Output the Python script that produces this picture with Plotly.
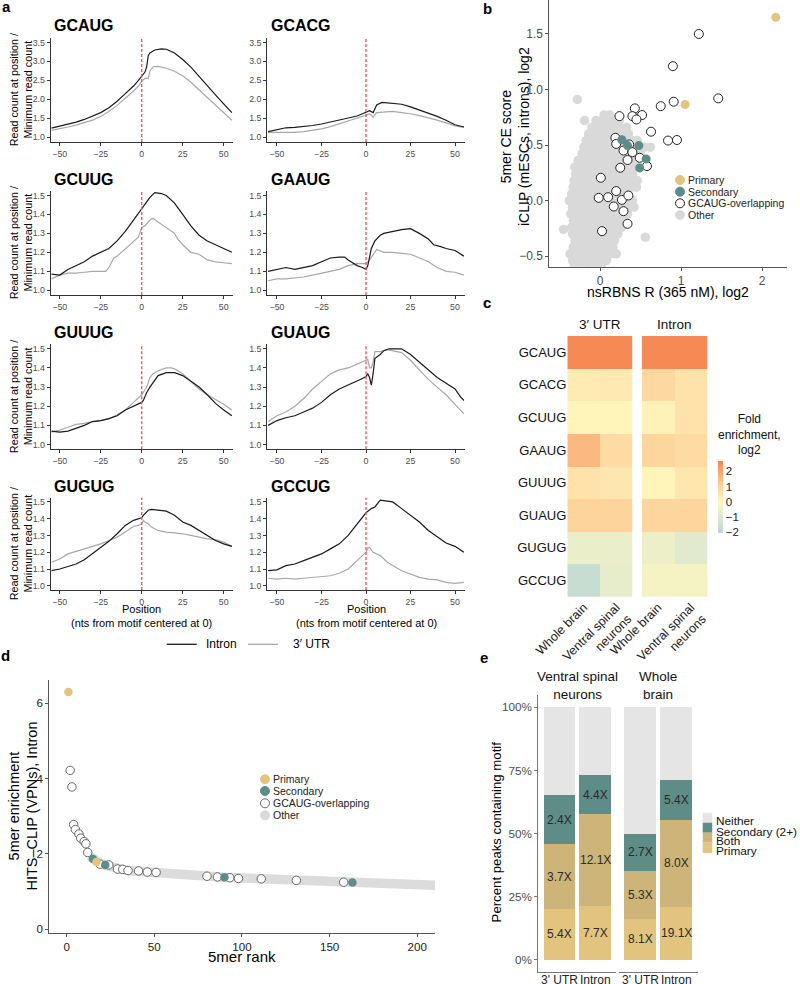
import plotly.graph_objects as go

W, H = 800, 984
FONT = "Liberation Sans, Arial, Helvetica, sans-serif"

# ---------------- Panel a data ----------------
POS_GCAUG_INTRON = [-55,-50,-45,-40,-35,-30,-25,-20,-15,-10,-5,-2,0,2,3,4,5,8,12,15,20,25,30,35,40,45,50,55]
VAL_GCAUG_INTRON = [1.24,1.29,1.34,1.40,1.47,1.55,1.65,1.78,1.95,2.15,2.35,2.50,2.62,2.72,2.85,3.15,3.22,3.30,3.33,3.32,3.22,3.05,2.85,2.60,2.35,2.12,1.88,1.65]
POS_GCAUG_UTR = [-55,-50,-45,-40,-35,-30,-25,-20,-15,-10,-5,-2,0,2,4,5,7,10,15,20,25,30,35,40,45,50,55]
VAL_GCAUG_UTR = [1.18,1.22,1.27,1.32,1.38,1.45,1.55,1.68,1.84,2.02,2.22,2.35,2.48,2.55,2.55,2.75,2.86,2.87,2.82,2.74,2.62,2.45,2.25,2.05,1.85,1.65,1.45]

POS_GCACG_INTRON = [-55,-50,-45,-40,-35,-30,-25,-20,-15,-10,-5,-2,0,2,4,6,9,15,20,25,30,35,40,45,50,55]
VAL_GCACG_INTRON = [1.15,1.20,1.25,1.26,1.28,1.31,1.35,1.40,1.45,1.50,1.56,1.62,1.67,1.70,1.65,1.85,1.92,1.90,1.87,1.80,1.72,1.64,1.55,1.45,1.33,1.27]
POS_GCACG_UTR = [-55,-50,-45,-40,-35,-30,-25,-20,-15,-10,-5,-2,0,2,4,6,10,15,20,25,30,35,40,45,50,55]
VAL_GCACG_UTR = [1.13,1.13,1.12,1.13,1.15,1.18,1.22,1.28,1.35,1.42,1.50,1.55,1.58,1.62,1.53,1.65,1.66,1.68,1.65,1.62,1.57,1.52,1.45,1.38,1.30,1.26]

POS_GCUUG_INTRON = [-55,-50,-45,-40,-35,-30,-25,-20,-15,-10,-5,0,3,5,8,12,15,20,25,30,35,40,45,50,55]
VAL_GCUUG_INTRON = [1.085,1.08,1.11,1.13,1.15,1.18,1.20,1.22,1.26,1.31,1.37,1.43,1.46,1.49,1.515,1.51,1.50,1.46,1.40,1.34,1.29,1.26,1.24,1.22,1.20]
POS_GCUUG_UTR = [-55,-50,-45,-40,-35,-30,-25,-22,-20,-17,-15,-10,-5,-2,0,2,5,7,10,15,20,22,25,30,35,40,45,50,55]
VAL_GCUUG_UTR = [1.06,1.08,1.09,1.09,1.095,1.10,1.10,1.10,1.12,1.17,1.18,1.22,1.26,1.28,1.33,1.34,1.37,1.38,1.36,1.33,1.30,1.27,1.24,1.20,1.19,1.16,1.15,1.145,1.14]

POS_GAAUG_INTRON = [-55,-50,-45,-40,-35,-30,-25,-20,-15,-12,-10,-5,-2,0,1,2,3,5,8,10,15,20,25,28,30,35,38,42,45,50,53,55]
VAL_GAAUG_INTRON = [1.10,1.11,1.12,1.11,1.12,1.13,1.15,1.17,1.175,1.175,1.16,1.13,1.12,1.11,1.13,1.18,1.22,1.26,1.29,1.30,1.31,1.32,1.325,1.31,1.30,1.27,1.24,1.23,1.22,1.21,1.19,1.18]
POS_GAAUG_UTR = [-55,-50,-45,-40,-35,-30,-25,-20,-15,-10,-5,-2,0,2,4,6,10,15,20,25,30,35,40,45,50,55]
VAL_GAAUG_UTR = [1.05,1.06,1.06,1.065,1.07,1.08,1.09,1.10,1.11,1.13,1.14,1.14,1.14,1.16,1.19,1.215,1.20,1.20,1.195,1.19,1.17,1.15,1.12,1.10,1.095,1.08]

POS_GUUUG_INTRON = [-55,-50,-45,-40,-35,-30,-25,-20,-15,-10,-5,0,1,3,5,8,10,15,20,25,30,35,40,45,50,55]
VAL_GUUUG_INTRON = [1.07,1.065,1.07,1.085,1.10,1.12,1.125,1.135,1.15,1.18,1.20,1.22,1.23,1.27,1.30,1.34,1.36,1.375,1.375,1.36,1.33,1.30,1.26,1.215,1.18,1.15]
POS_GUUUG_UTR = [-55,-50,-45,-40,-35,-30,-25,-20,-15,-10,-5,0,3,5,7,10,15,18,20,25,30,35,40,45,50,55]
VAL_GUUUG_UTR = [1.065,1.075,1.09,1.105,1.11,1.12,1.125,1.135,1.155,1.18,1.22,1.26,1.30,1.35,1.37,1.385,1.40,1.40,1.395,1.37,1.33,1.29,1.26,1.235,1.21,1.18]

POS_GUAUG_INTRON = [-55,-50,-45,-40,-35,-30,-25,-20,-15,-10,-5,-2,0,1,2,3,4,5,8,10,13,16,20,25,30,35,40,45,50,53,55]
VAL_GUAUG_INTRON = [1.10,1.125,1.14,1.15,1.17,1.19,1.22,1.26,1.29,1.31,1.33,1.345,1.355,1.37,1.35,1.31,1.37,1.45,1.47,1.49,1.50,1.50,1.50,1.47,1.43,1.39,1.35,1.32,1.29,1.25,1.23]
POS_GUAUG_UTR = [-55,-50,-45,-40,-35,-30,-25,-20,-15,-10,-5,-2,0,1,2,3,4,5,8,12,15,20,25,30,35,40,45,50,55]
VAL_GUAUG_UTR = [1.12,1.15,1.17,1.20,1.24,1.29,1.33,1.37,1.39,1.40,1.42,1.43,1.44,1.445,1.40,1.40,1.43,1.485,1.485,1.495,1.49,1.48,1.44,1.39,1.34,1.30,1.26,1.21,1.16]

POS_GUGUG_INTRON = [-55,-50,-45,-40,-35,-30,-25,-20,-15,-10,-5,-2,0,1,2,4,6,10,15,20,25,30,35,40,45,50,55]
VAL_GUGUG_INTRON = [1.09,1.10,1.115,1.13,1.155,1.19,1.225,1.265,1.31,1.36,1.39,1.40,1.405,1.42,1.43,1.45,1.455,1.45,1.445,1.42,1.38,1.36,1.33,1.30,1.27,1.25,1.235]
POS_GUGUG_UTR = [-55,-50,-45,-40,-35,-30,-25,-20,-15,-10,-5,-2,0,1,2,4,6,10,15,20,25,30,35,40,45,50,55]
VAL_GUGUG_UTR = [1.14,1.16,1.19,1.205,1.22,1.235,1.25,1.27,1.29,1.32,1.355,1.36,1.37,1.39,1.38,1.37,1.35,1.33,1.32,1.315,1.31,1.30,1.29,1.28,1.275,1.26,1.235]

POS_GCCUG_INTRON = [-55,-50,-45,-40,-35,-30,-25,-20,-15,-10,-5,0,3,5,8,12,15,20,25,30,35,40,45,50,55]
VAL_GCCUG_INTRON = [1.09,1.095,1.12,1.13,1.15,1.17,1.19,1.22,1.25,1.30,1.37,1.435,1.46,1.47,1.51,1.505,1.50,1.46,1.42,1.38,1.33,1.29,1.255,1.235,1.20]
POS_GCCUG_UTR = [-55,-50,-45,-40,-35,-30,-25,-20,-15,-10,-5,-2,0,1,2,4,8,12,15,20,25,30,35,40,45,50,55]
VAL_GCCUG_UTR = [1.045,1.04,1.045,1.04,1.045,1.05,1.055,1.06,1.075,1.10,1.15,1.18,1.20,1.225,1.23,1.20,1.18,1.14,1.12,1.09,1.07,1.05,1.04,1.035,1.02,1.015,1.02]

A_MOTIFS = ["GCAUG", "GCACG", "GCUUG", "GAAUG", "GUUUG", "GUAUG", "GUGUG", "GCCUG"]
A_X_TICKS = [-50, -25, 0, 25, 50]

# ---------------- Panel b data ----------------
B_PRIMARY_X = [2.17, 1.05]
B_PRIMARY_Y = [1.65, 0.865]
B_SECONDARY_X = [0.27, 0.34, 0.48, 0.57, 0.49]
B_SECONDARY_Y = [0.547, 0.495, 0.495, 0.375, 0.294]
B_OVERLAP_X = [1.22, 0.90, 0.91, 1.46, 0.75, 0.43, 0.24, 0.40, 0.52, 0.45, 0.63, 0.84, 0.95, 0.19, 0.20,
               0.36, 0.29, 0.40, 0.49, 0.34, 0.25, 0.58, 0.01, 0.20, -0.016, 0.10, 0.17, 0.27, 0.35, 0.29, 0.34, 0.025]
B_OVERLAP_Y = [1.50, 1.21, 0.89, 0.92, 0.85, 0.83, 0.76, 0.76, 0.77, 0.73, 0.62, 0.54, 0.545, 0.565, 0.51,
               0.505, 0.45, 0.435, 0.385, 0.365, 0.295, 0.31, 0.205, 0.085, 0.024, 0.03, -0.054, 0.006, 0.045, -0.096, -0.21, -0.276]
# "Other" 5mers: rows of the grey cloud (y level -> x positions)
B_OTHER_ROWS = [
    (-0.60, [-0.32, -0.25, -0.18, -0.11, -0.04, 0.02]),
    (-0.54, [-0.34, -0.27, -0.20, -0.13, -0.06, 0.01, 0.08]),
    (-0.48, [-0.37, -0.30, -0.23, -0.16, -0.09, -0.02, 0.05, 0.12, 0.20]),
    (-0.42, [-0.33, -0.26, -0.19, -0.12, -0.05, 0.02, 0.09, 0.16]),
    (-0.36, [-0.31, -0.24, -0.17, -0.10, -0.03, 0.04, 0.11, 0.18]),
    (-0.33, [0.56]),
    (-0.30, [-0.34, -0.27, -0.20, -0.13, -0.06, 0.01, 0.08, 0.15, 0.22]),
    (-0.26, [-0.45]),
    (-0.24, [-0.35, -0.28, -0.21, -0.14, -0.07, 0.00, 0.07, 0.14, 0.21, 0.27]),
    (-0.18, [-0.33, -0.26, -0.19, -0.12, -0.05, 0.02, 0.09, 0.16, 0.23, 0.30]),
    (-0.12, [-0.36, -0.29, -0.22, -0.15, -0.08, -0.01, 0.06, 0.13, 0.20, 0.27, 0.34]),
    (-0.06, [-0.34, -0.27, -0.20, -0.13, -0.06, 0.01, 0.08, 0.15, 0.22, 0.29, 0.36, 0.42]),
    (0.00, [-0.38, -0.31, -0.24, -0.17, -0.10, -0.03, 0.04, 0.11, 0.18, 0.25, 0.32, 0.40]),
    (0.06, [-0.35, -0.28, -0.21, -0.14, -0.07, 0.00, 0.07, 0.14, 0.21, 0.28, 0.35]),
    (0.12, [-0.33, -0.26, -0.19, -0.12, -0.05, 0.02, 0.09, 0.16, 0.23, 0.30, 0.38, 0.45]),
    (0.18, [-0.32, -0.25, -0.18, -0.11, -0.04, 0.03, 0.10, 0.17, 0.24, 0.31, 0.38, 0.46]),
    (0.24, [-0.30, -0.23, -0.16, -0.09, -0.02, 0.05, 0.12, 0.19, 0.26, 0.33, 0.40]),
    (0.30, [-0.31, -0.24, -0.17, -0.10, -0.03, 0.04, 0.11, 0.18, 0.25, 0.32, 0.39, 0.47]),
    (0.36, [-0.27, -0.20, -0.13, -0.06, 0.01, 0.08, 0.15, 0.22, 0.29, 0.36, 0.43]),
    (0.42, [-0.22, -0.15, -0.08, -0.01, 0.06, 0.13, 0.20, 0.27, 0.34, 0.41, 0.50]),
    (0.48, [-0.20, -0.13, -0.06, 0.01, 0.08, 0.15, 0.22, 0.29, 0.36, 0.43, 0.55, 0.62]),
    (0.54, [-0.17, -0.10, -0.03, 0.04, 0.11, 0.18, 0.25, 0.32, 0.39, 0.46]),
    (0.60, [-0.14, -0.07, 0.00, 0.07, 0.14, 0.21, 0.28, 0.35]),
    (0.66, [-0.10, -0.03, 0.04, 0.11, 0.18, 0.25, 0.33]),
    (0.72, [-0.19, -0.05, 0.02, 0.09, 0.16, 0.24]),
    (0.77, [0.05, 0.12]),
    (0.91, [-0.28]),
]

# ---------------- Panel c data ----------------
HEAT_MOTIFS = ["GCAUG", "GCACG", "GCUUG", "GAAUG", "GUUUG", "GUAUG", "GUGUG", "GCCUG"]
HEAT_COLS = ["Whole brain", "Ventral spinal<br>neurons"]
HEAT_UTR_WB = [2.6, 0.35, 0.1, 1.6, 0.6, 1.0, -0.6, -1.7]
HEAT_UTR_VSN = [2.6, 0.4, 0.1, 0.8, 0.45, 1.0, -0.6, -0.7]
HEAT_INTRON_WB = [2.6, 0.85, 0.15, 0.95, 0.1, 0.95, -0.55, -0.3]
HEAT_INTRON_VSN = [2.6, 0.6, 0.6, 0.8, 0.5, 0.95, -0.85, -0.3]

# ---------------- Panel d data ----------------
D_OTHER_RANK = [13, 16, 19, 22, 26, 30, 35, 40, 45, 50, 55, 60, 70, 80, 90, 100, 120, 140, 160, 180, 200, 212]
D_OTHER_VAL = [1.95, 1.83, 1.76, 1.70, 1.64, 1.60, 1.56, 1.54, 1.52, 1.49, 1.47, 1.45, 1.43, 1.41, 1.38, 1.36, 1.32, 1.29, 1.25, 1.22, 1.19, 1.17]
D_OVERLAP_RANK = [2, 3, 4, 5, 7, 8, 10, 11, 12, 19, 24, 29, 32, 35, 41, 46, 51, 80, 86, 93, 98, 111, 131, 158]
D_OVERLAP_VAL = [4.22, 3.78, 2.78, 2.65, 2.53, 2.42, 2.33, 2.27, 2.04, 1.73, 1.71, 1.60, 1.59, 1.56, 1.55, 1.52, 1.51, 1.41, 1.39, 1.37, 1.35, 1.34, 1.30, 1.25]
D_SECONDARY_RANK = [15, 22, 90, 163]
D_SECONDARY_VAL = [1.87, 1.71, 1.38, 1.24]
D_PRIMARY_RANK = [1, 17]
D_PRIMARY_VAL = [6.30, 1.79]

# ---------------- Panel e data ----------------
E_FACETS = ["Ventral spinal<br>neurons", "Whole<br>brain"]
E_REGIONS = ["3' UTR", "Intron"]
E_PRIMARY = [20.1, 21.3, 16.2, 21.0]
E_BOTH = [25.7, 36.4, 19.1, 34.5]
E_SECONDARY = [19.3, 15.3, 14.6, 15.8]
E_PRIMARY_FOLD = ["5.4X", "7.7X", "8.1X", "19.1X"]
E_BOTH_FOLD = ["3.7X", "12.1X", "5.3X", "8.0X"]
E_SECONDARY_FOLD = ["2.4X", "4.4X", "2.7X", "5.4X"]

# ---------------- colours ----------------
C_PRIMARY = "#E3C47F"
C_BOTH = "#CDB57A"
C_SECONDARY = "#5E8C87"
C_NEITHER = "#E5E5E5"
C_OTHER = "#D9D9D9"
C_INTRON = "#1A1A1A"
C_UTR = "#A8A8A8"
C_RED = "#F5575A"


def fx(p):
    return p / W


def fy(p):
    return 1 - p / H


def names(i):
    s = "" if i == 1 else str(i)
    return "xaxis" + s, "yaxis" + s, "x" + s, "y" + s


fig = go.Figure()
layout = {}
annotations = []
shapes = []


def ann(text, x, y, size, color="#1A1A1A", xanchor="center", yanchor="middle", angle=0, bold=False):
    if bold:
        text = "<b>" + text + "</b>"
    annotations.append(dict(text=text, x=fx(x), y=fy(y), xref="paper", yref="paper", showarrow=False,
                            xanchor=xanchor, yanchor=yanchor, textangle=angle,
                            font=dict(family=FONT, size=size, color=color)))


def base_axis(tsize, tcolor="#4D4D4D", lcolor="#333333"):
    return dict(showgrid=False, zeroline=False, showline=True, linecolor=lcolor, linewidth=1,
                ticks="outside", ticklen=3, tickwidth=1, tickcolor=lcolor, automargin=False,
                tickfont=dict(family=FONT, size=tsize, color=tcolor))


# ================= Panel a =================
A_SERIES = [
    (POS_GCAUG_INTRON, VAL_GCAUG_INTRON, POS_GCAUG_UTR, VAL_GCAUG_UTR),
    (POS_GCACG_INTRON, VAL_GCACG_INTRON, POS_GCACG_UTR, VAL_GCACG_UTR),
    (POS_GCUUG_INTRON, VAL_GCUUG_INTRON, POS_GCUUG_UTR, VAL_GCUUG_UTR),
    (POS_GAAUG_INTRON, VAL_GAAUG_INTRON, POS_GAAUG_UTR, VAL_GAAUG_UTR),
    (POS_GUUUG_INTRON, VAL_GUUUG_INTRON, POS_GUUUG_UTR, VAL_GUUUG_UTR),
    (POS_GUAUG_INTRON, VAL_GUAUG_INTRON, POS_GUAUG_UTR, VAL_GUAUG_UTR),
    (POS_GUGUG_INTRON, VAL_GUGUG_INTRON, POS_GUGUG_UTR, VAL_GUGUG_UTR),
    (POS_GCCUG_INTRON, VAL_GCCUG_INTRON, POS_GCCUG_UTR, VAL_GCCUG_UTR),
]
COL_X = [(50.7, 232.7), (267.2, 464.8)]
ROW_Y = [(37.7, 142.0), (190.7, 295.0), (344.0, 449.3), (497.7, 590.0)]
TITLE_Y = [26, 180, 333, 486]
TITLE_X = [52, 269]

for k, (pi, vi, pu, vu) in enumerate(A_SERIES):
    r, c = divmod(k, 2)
    i = k + 1
    xk, yk, xr, yr = names(i)
    fig.add_trace(go.Scatter(x=pu, y=vu, mode="lines", line=dict(color=C_UTR, width=1.2),
                             xaxis=xr, yaxis=yr, showlegend=False, hoverinfo="skip"))
    fig.add_trace(go.Scatter(x=pi, y=vi, mode="lines", line=dict(color=C_INTRON, width=1.2),
                             xaxis=xr, yaxis=yr, showlegend=False, hoverinfo="skip"))
    xa = base_axis(8.8)
    xa.update(domain=[fx(COL_X[c][0]), fx(COL_X[c][1])], anchor=yr, range=[-55.5, 55.5],
              tickvals=A_X_TICKS)
    ya = base_axis(8.8)
    if r == 0:
        ya.update(range=[0.875, 3.625], tickvals=[1.0, 1.5, 2.0, 2.5, 3.0, 3.5])
    else:
        ya.update(range=[0.975, 1.525], tickvals=[1.0, 1.1, 1.2, 1.3, 1.4, 1.5])
    ya.update(domain=[fy(ROW_Y[r][1]), fy(ROW_Y[r][0])], anchor=xr, tickformat=".1f")
    layout[xk] = xa
    layout[yk] = ya
    shapes.append(dict(type="line", xref=xr, yref=yr + " domain", x0=0, x1=0, y0=0, y1=1,
                       line=dict(color=C_RED, width=1.4, dash="3px,2px")))
    ann(A_MOTIFS[k], TITLE_X[c], TITLE_Y[r], 16, color="#000000", xanchor="left", bold=True)
    if c == 0:
        ann("Read count at position /<br>Minimum read count", 20.5, (ROW_Y[r][0] + ROW_Y[r][1]) / 2,
            10.8, color="#000000", angle=-90)

for c in range(2):
    ann("Position<br>(nts from motif centered at 0)", (COL_X[c][0] + COL_X[c][1]) / 2, 615.5, 11,
        color="#000000")

# panel a legend
shapes.append(dict(type="line", xref="paper", yref="paper", x0=fx(166.7), x1=fx(196.7), y0=fy(644.3), y1=fy(644.3),
                   line=dict(color=C_INTRON, width=1.3)))
shapes.append(dict(type="line", xref="paper", yref="paper", x0=fx(248), x1=fx(278), y0=fy(644.3), y1=fy(644.3),
                   line=dict(color=C_UTR, width=1.3)))
ann("Intron", 204, 644.3, 12, color="#000000", xanchor="left")
ann("3′ UTR", 290.5, 644.3, 12, color="#000000", xanchor="left")

# ================= Panel b =================
i = 9
xk, yk, xr, yr = names(i)
other_x = [x for (yv, xs) in B_OTHER_ROWS for x in xs]
other_y = [yv for (yv, xs) in B_OTHER_ROWS for x in xs]
fig.add_trace(go.Scatter(x=other_x, y=other_y, mode="markers", marker=dict(size=9.5, color=C_OTHER, line=dict(width=0)),
                         xaxis=xr, yaxis=yr, showlegend=False, hoverinfo="skip"))
fig.add_trace(go.Scatter(x=B_OVERLAP_X, y=B_OVERLAP_Y, mode="markers",
                         marker=dict(size=9, color="white", line=dict(width=1, color="#222222")),
                         xaxis=xr, yaxis=yr, showlegend=False, hoverinfo="skip"))
fig.add_trace(go.Scatter(x=B_SECONDARY_X, y=B_SECONDARY_Y, mode="markers",
                         marker=dict(size=9, color=C_SECONDARY, line=dict(width=0)),
                         xaxis=xr, yaxis=yr, showlegend=False, hoverinfo="skip"))
fig.add_trace(go.Scatter(x=B_PRIMARY_X, y=B_PRIMARY_Y, mode="markers",
                         marker=dict(size=9, color=C_PRIMARY, line=dict(width=0)),
                         xaxis=xr, yaxis=yr, showlegend=False, hoverinfo="skip"))
xa = base_axis(12, lcolor="#555555")
xa.update(domain=[fx(549.3), fx(786.7)], anchor=yr, range=[-0.626, 2.305], tickvals=[0, 1, 2])
ya = base_axis(12, lcolor="#555555")
ya.update(domain=[fy(266.7), fy(0)], anchor=xr, range=[-0.596, 1.806],
          tickvals=[-0.5, 0.0, 0.5, 1.0, 1.5], tickformat=".1f")
layout[xk] = xa
layout[yk] = ya
ann("5mer CE score<br>iCLIP (mESCs, introns), log2", 515, 137, 14, color="#000000", angle=-90)
ann("nsRBNS R (365 nM), log2", 668, 291.5, 14, color="#000000")

LEG_B = [("Primary", C_PRIMARY, C_PRIMARY), ("Secondary", C_SECONDARY, C_SECONDARY),
         ("GCAUG-overlapping", "white", "#222222"), ("Other", C_OTHER, C_OTHER)]
for j, (lab, fc, lc) in enumerate(LEG_B):
    yy = [180, 191.7, 203.3, 215][j]
    shapes.append(dict(type="circle", xref="paper", yref="paper", xsizemode="pixel", ysizemode="pixel",
                       xanchor=fx(680), yanchor=fy(yy), x0=-4.5, x1=4.5, y0=-4.5, y1=4.5,
                       fillcolor=fc, line=dict(color=lc, width=1)))
    ann(lab, 685.5, yy, 10.5, color="#222222", xanchor="left")

# ================= Panel c =================
HEAT_SCALE = [[0.0, "#BDD7D3"], [0.221, "#DCE8D1"], [0.4316, "#FFF7BD"], [0.6421, "#FDD49C"], [1.0, "#F6854F"]]
facets_c = [([HEAT_UTR_WB, HEAT_UTR_VSN], (567.3, 632.7), "3′ UTR"),
            ([HEAT_INTRON_WB, HEAT_INTRON_VSN], (641.7, 707.3), "Intron")]
for f, (cols, (x0, x1), head) in enumerate(facets_c):
    i = 10 + f
    xk, yk, xr, yr = names(i)
    z = [[cols[0][m], cols[1][m]] for m in range(len(HEAT_MOTIFS))]
    tr = go.Heatmap(z=z, x=HEAT_COLS, y=HEAT_MOTIFS, colorscale=HEAT_SCALE, zmin=-2.05, zmax=2.7,
                    xaxis=xr, yaxis=yr, hoverinfo="skip", showscale=(f == 0))
    if f == 0:
        tr.colorbar = dict(x=fx(717.7), xanchor="left", y=fy(496.7), yanchor="middle",
                           len=72 / H, lenmode="fraction", thickness=5, thicknessmode="pixels",
                           tickvals=[-2, -1, 0, 1, 2], ticktext=["−2", "−1", "0", "1", "2"],
                           ticks="", outlinewidth=0, xpad=0, ypad=0,
                           tickfont=dict(family=FONT, size=11.5, color="#222222"))
    fig.add_trace(tr)
    layout[xk] = dict(domain=[fx(x0), fx(x1)], anchor=yr, showline=False, showgrid=False, zeroline=False,
                      ticks="", tickangle=-45, automargin=False,
                      tickfont=dict(family=FONT, size=12.5, color="#222222"))
    layout[yk] = dict(domain=[fy(596.7), fy(336)], anchor=xr, showline=False, showgrid=False, zeroline=False,
                      ticks="", autorange="reversed", showticklabels=(f == 0), automargin=False,
                      tickfont=dict(family=FONT, size=13, color="#111111"))
    ann(head, (x0 + x1) / 2, 324, 13.5, color="#111111")
ann("Fold<br>enrichment,<br>log2", 716, 410, 12, color="#111111", xanchor="left", yanchor="top")

# ================= Panel d =================
i = 12
xk, yk, xr, yr = names(i)
fig.add_trace(go.Scatter(x=D_OTHER_RANK, y=D_OTHER_VAL, mode="lines", line=dict(color="#DCDCDC", width=9.5),
                         xaxis=xr, yaxis=yr, showlegend=False, hoverinfo="skip"))
fig.add_trace(go.Scatter(x=D_OVERLAP_RANK, y=D_OVERLAP_VAL, mode="markers",
                         marker=dict(size=8.5, color="white", line=dict(width=1, color="#666666")),
                         xaxis=xr, yaxis=yr, showlegend=False, hoverinfo="skip"))
fig.add_trace(go.Scatter(x=D_SECONDARY_RANK, y=D_SECONDARY_VAL, mode="markers",
                         marker=dict(size=8.5, color=C_SECONDARY, line=dict(width=0)),
                         xaxis=xr, yaxis=yr, showlegend=False, hoverinfo="skip"))
fig.add_trace(go.Scatter(x=D_PRIMARY_RANK, y=D_PRIMARY_VAL, mode="markers",
                         marker=dict(size=8.5, color=C_PRIMARY, line=dict(width=0)),
                         xaxis=xr, yaxis=yr, showlegend=False, hoverinfo="skip"))
xa = base_axis(11.6, tcolor="#222222", lcolor="#555555")
xa.update(domain=[fx(49.3), fx(435)], anchor=yr, range=[-9.9, 210.1], tickvals=[0, 50, 100, 150, 200])
ya = base_axis(11.6, tcolor="#222222", lcolor="#555555")
ya.update(domain=[fy(932.7), fy(680)], anchor=xr, range=[-0.09, 6.62], tickvals=[0, 2, 4, 6])
layout[xk] = xa
layout[yk] = ya
ann("5mer enrichment<br>HITS–CLIP (VPNs), Intron", 22.5, 806, 14.5, color="#000000", angle=-90)
ann("5mer rank", 242, 956.7, 15, color="#000000")
LEG_D = [("Primary", C_PRIMARY, C_PRIMARY), ("Secondary", C_SECONDARY, C_SECONDARY),
         ("GCAUG-overlapping", "white", "#666666"), ("Other", C_OTHER, C_OTHER)]
for j, (lab, fc, lc) in enumerate(LEG_D):
    yy = [779.3, 791, 803.3, 815.3][j]
    shapes.append(dict(type="circle", xref="paper", yref="paper", xsizemode="pixel", ysizemode="pixel",
                       xanchor=fx(265), yanchor=fy(yy), x0=-4.5, x1=4.5, y0=-4.5, y1=4.5,
                       fillcolor=fc, line=dict(color=lc, width=1)))
    ann(lab, 271, yy, 10.5, color="#222222", xanchor="left")

# ================= Panel e =================
facets_e = [(0, (538.2, 616.3)), (2, (618.7, 697.5))]
for f, (off, (x0, x1)) in enumerate(facets_e):
    i = 13 + f
    xk, yk, xr, yr = names(i)
    prim = E_PRIMARY[off:off + 2]
    both = E_BOTH[off:off + 2]
    sec = E_SECONDARY[off:off + 2]
    neither = [100 - p - b - s for p, b, s in zip(prim, both, sec)]
    for vals, col in [(prim, C_PRIMARY), (both, C_BOTH), (sec, C_SECONDARY), (neither, C_NEITHER)]:
        fig.add_trace(go.Bar(x=E_REGIONS, y=vals, marker=dict(color=col, line=dict(width=0)), width=0.9,
                             xaxis=xr, yaxis=yr, showlegend=False, hoverinfo="skip"))
    for j in range(2):
        p, b, s = prim[j], both[j], sec[j]
        for yv, lab in [(p / 2, E_PRIMARY_FOLD[off + j]), (p + b / 2, E_BOTH_FOLD[off + j]),
                        (p + b + s / 2, E_SECONDARY_FOLD[off + j])]:
            annotations.append(dict(text=lab, x=j, y=yv, xref=xr, yref=yr, showarrow=False,
                                    font=dict(family=FONT, size=12, color="#2A2A2A")))
        annotations.append(dict(text=E_REGIONS[j], x=j, y=fy(980), xref=xr, yref="paper", showarrow=False,
                                yanchor="middle", font=dict(family=FONT, size=12, color="#222222")))
    xa = dict(domain=[fx(x0), fx(x1)], anchor=yr, range=[-0.6, 1.6], showline=True, linecolor="#777777",
              linewidth=1, showgrid=False, zeroline=False, ticks="", showticklabels=False, automargin=False)
    ya = base_axis(11.7, lcolor="#777777")
    ya.update(domain=[fy(972.3), fy(694.7)], anchor=xr, range=[-5, 105],
              tickvals=[0, 25, 50, 75, 100], ticktext=["0%", "25%", "50%", "75%", "100%"])
    if f == 1:
        ya.update(showline=False, showticklabels=False, ticks="")
    layout[xk] = xa
    layout[yk] = ya
    ann(E_FACETS[f], (x0 + x1) / 2, 685.5, 13.5, color="#111111")
ann("Percent peaks containing motif", 496.7, 831.7, 13.2, color="#000000", angle=-90)
LEG_E = [("Neither", C_NEITHER, 812.7, 822.7, 820.7), ("Secondary (2+)", C_SECONDARY, 822.7, 832.7, 831.7),
         ("Both", C_BOTH, 832.7, 842.7, 841), ("Primary", C_PRIMARY, 842.7, 853, 851)]
for lab, col, t, b, ty in LEG_E:
    shapes.append(dict(type="rect", xref="paper", yref="paper", x0=fx(702.7), x1=fx(712.2), y0=fy(b), y1=fy(t),
                       fillcolor=col, line=dict(width=0)))
    ann(lab, 714, ty, 11.8, color="#111111", xanchor="left")

# panel letters
for lab, x, y in [("a", 6, 7), ("b", 487, 8), ("c", 487, 302), ("d", 5, 655), ("e", 484, 657)]:
    ann(lab, x, y, 15, color="#000000", bold=True)

layout.update(width=W, height=H, margin=dict(l=0, r=0, t=0, b=0, pad=0, autoexpand=False),
              paper_bgcolor="white", plot_bgcolor="white", barmode="stack", bargap=0.1, showlegend=False,
              font=dict(family=FONT, color="#222222"), annotations=annotations, shapes=shapes)
fig.update_layout(**layout)
fig.write_html("out.html", config={"displayModeBar": False, "staticPlot": True},
               post_script="document.body.style.margin='0px';document.body.style.overflow='hidden';")
